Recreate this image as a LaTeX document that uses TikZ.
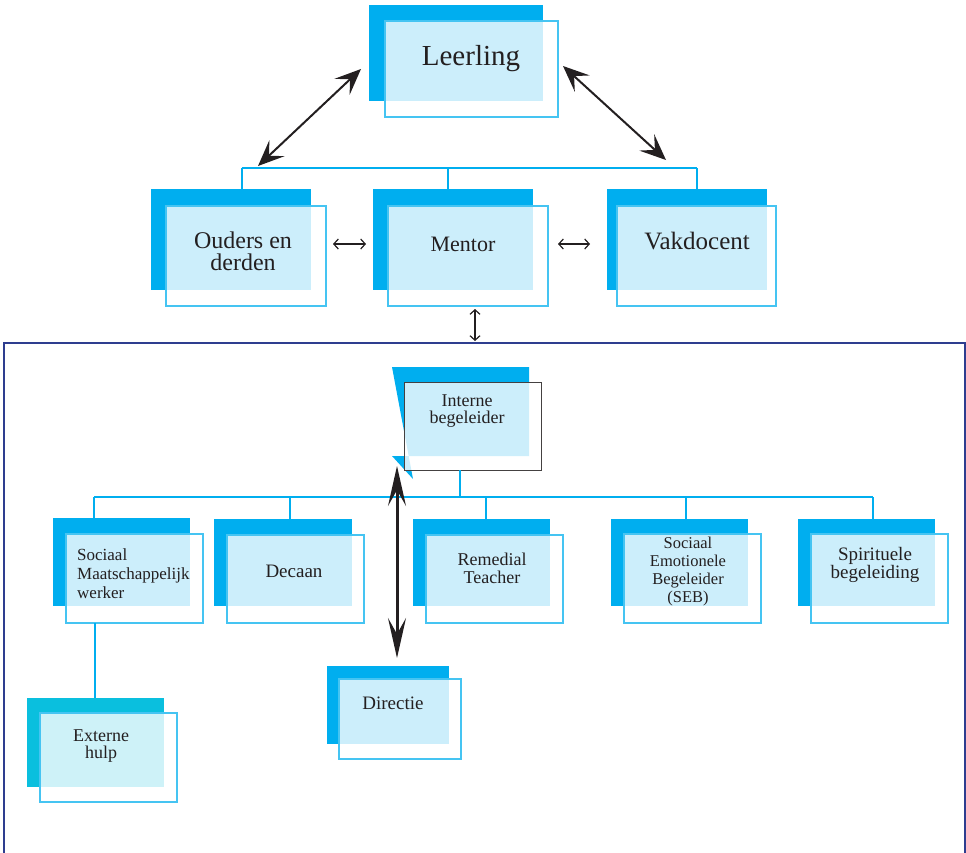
\documentclass[tikz,border=0pt]{standalone}
\usepackage{fontspec}
\setmainfont{Liberation Serif}
\usetikzlibrary{arrows.meta}
\definecolor{cdark}{HTML}{00AEEF}
\definecolor{cteal}{HTML}{0ABFDE}
\definecolor{cline}{HTML}{45C4F2}
\definecolor{ctree}{HTML}{00AEEF}
\definecolor{cframe}{HTML}{2E3D8F}
\definecolor{ink}{HTML}{231F20}
\newcommand{\fsz}[2]{\fontsize{#1}{#2}\selectfont}
\begin{document}
\begin{tikzpicture}[x=1pt,y=-1pt,
  back/.style={fill=cdark, draw=none, inner sep=0pt, outer sep=0pt, anchor=north west},
  front/.style={draw=cline, line width=1.1pt, fill=white, fill opacity=0.8,
                inner sep=0pt, outer sep=0pt, anchor=north west},
  lbl/.style={text=ink, align=center, inner sep=0pt},
  tree/.style={draw=ctree, line width=1.1pt},
  bigarrow/.style={draw=ink, line width=2pt,
     {Stealth[length=26pt,width=22pt,inset=11pt]}-{Stealth[length=26pt,width=22pt,inset=11pt]}},
  tallarrow/.style={draw=ink, line width=3pt,
     {Stealth[length=40pt,width=18pt,inset=16pt]}-{Stealth[length=40pt,width=18pt,inset=16pt]}},
  smallarrow/.style={draw=ink, line width=1.2pt,
     {Straight Barb[length=4.5pt,width=10pt]}-{Straight Barb[length=4.5pt,width=10pt]}},
]
\useasboundingbox (0,0) rectangle (966,852);

% ---------- top level ----------
\node[back, minimum width=174pt, minimum height=96pt] (leerling-bk) at (369,5) {};
\node[front, minimum width=173pt, minimum height=96pt] (leerling) at (385,21) {};
\node[lbl, font=\fsz{29}{31}] (leerling-txt) at (471,59) {Leerling};

\node[back, minimum width=160pt, minimum height=101pt] (ouders-bk) at (151,189) {};
\node[front, minimum width=160pt, minimum height=100pt] (ouders) at (166,206) {};
\node[lbl, font=\fsz{24}{22}] (ouders-txt) at (243,251) {Ouders en\\derden};

\node[back, minimum width=160pt, minimum height=101pt] (mentor-bk) at (373,189) {};
\node[front, minimum width=160pt, minimum height=100pt] (mentor) at (388,206) {};
\node[lbl, font=\fsz{22}{24}] (mentor-txt) at (463,244) {Mentor};

\node[back, minimum width=160pt, minimum height=101pt] (vak-bk) at (607,189) {};
\node[front, minimum width=159pt, minimum height=100pt] (vak) at (617,206) {};
\node[lbl, font=\fsz{25}{27}] (vak-txt) at (697,241) {Vakdocent};

% tree connecting the three boxes
\coordinate (bar1-l) at (242,168);
\coordinate (bar1-m) at (448,168);
\coordinate (bar1-r) at (697,168);
\draw[tree] (bar1-l) -- (bar1-r);
\draw[tree] (bar1-l) -- (bar1-l |- ouders-bk.north);
\draw[tree] (bar1-m) -- (bar1-m |- mentor-bk.north);
\draw[tree] (bar1-r) -- (bar1-r |- vak-bk.north);

% arrows between the top boxes
\coordinate (a1) at (361,69);  \coordinate (a2) at (258,166);
\coordinate (b1) at (563,66);  \coordinate (b2) at (666,160);
\draw[bigarrow] (a1) -- (a2);
\draw[bigarrow] (b1) -- (b2);
\coordinate (c1) at (333,244); \coordinate (c2) at (366,244);
\coordinate (d1) at (558,244); \coordinate (d2) at (590,244);
\coordinate (e1) at (475,309); \coordinate (e2) at (475,341);
\draw[smallarrow] (c1) -- (c2);
\draw[smallarrow] (d1) -- (d2);
\draw[smallarrow] (e1) -- (e2);

% ---------- care frame ----------
\draw[cframe, line width=1.8pt] (4,343) rectangle (965,870);

% interne begeleider
\fill[cdark] (392,367) -- (529,367) -- (529,456) -- (392,456) -- (413,479) -- cycle;
\node[front, draw=ink!85, line width=1pt, minimum width=137pt, minimum height=88pt] (ib) at (404,382) {};
\node[lbl, font=\fsz{18}{17}] (ib-txt) at (467,411) {Interne\\begeleider};

% second row
\node[back, minimum width=137pt, minimum height=88pt] (smw-bk) at (53,518) {};
\node[front, minimum width=137pt, minimum height=89pt] (smw) at (66,534) {};
\node[text=ink, align=left, inner sep=0pt, anchor=west, font=\fsz{17}{19}] (smw-txt) at (77,574)
  {Sociaal\\Maatschappelijk\\werker};

\node[back, minimum width=138pt, minimum height=87pt] (dec-bk) at (214,519) {};
\node[front, minimum width=137pt, minimum height=88pt] (dec) at (227,535) {};
\node[lbl, font=\fsz{19}{21}] (dec-txt) at (294,571) {Decaan};

\node[back, minimum width=137pt, minimum height=87pt] (rt-bk) at (413,519) {};
\node[front, minimum width=137pt, minimum height=88pt] (rt) at (426,535) {};
\node[lbl, font=\fsz{18}{18}] (rt-txt) at (492,568) {Remedial\\Teacher};

\node[back, minimum width=137pt, minimum height=87pt] (seb-bk) at (611,519) {};
\node[front, minimum width=137pt, minimum height=89pt] (seb) at (624,534) {};
\node[lbl, font=\fsz{16.5}{18}] (seb-txt) at (688,572) {Sociaal\\Emotionele\\Begeleider\\(SEB)};

\node[back, minimum width=137pt, minimum height=87pt] (spi-bk) at (798,519) {};
\node[front, minimum width=137pt, minimum height=89pt] (spi) at (811,534) {};
\node[lbl, font=\fsz{19}{18}] (spi-txt) at (875,565) {Spirituele\\begeleiding};

% externe hulp
\node[back, fill=cteal, minimum width=137pt, minimum height=89pt] (ext-bk) at (27,698) {};
\node[front, minimum width=137pt, minimum height=89pt] (ext) at (40,713) {};
\node[lbl, font=\fsz{18}{17.5}] (ext-txt) at (101,746) {Externe\\hulp};

% directie
\node[back, minimum width=122pt, minimum height=78pt] (dir-bk) at (327,666) {};
\node[front, minimum width=122pt, minimum height=80pt] (dir) at (339,679) {};
\node[lbl, font=\fsz{19}{21}] (dir-txt) at (393,703) {Directie};

% tree below interne begeleider
\coordinate (ib-out) at (460,470);
\coordinate (bar2-m) at (460,497);
\coordinate (bar2-l) at (94,497);
\coordinate (bar2-r) at (873,497);
\draw[tree] (ib-out) -- (bar2-m);
\draw[tree] (bar2-l) -- (bar2-r);
\draw[tree] (bar2-l) -- (bar2-l |- smw-bk.north);
\draw[tree] (290,497) -- (290,519);
\draw[tree] (486,497) -- (486,519);
\draw[tree] (686,497) -- (686,519);
\draw[tree] (bar2-r) -- (bar2-r |- spi-bk.north);
\coordinate (smw-out) at (95,623);
\draw[tree] (smw-out) -- (smw-out |- ext-bk.north);

% directie link
\coordinate (f1) at (397,466); \coordinate (f2) at (397,658);
\draw[tallarrow] (f1) -- (f2);
\end{tikzpicture}
\end{document}
